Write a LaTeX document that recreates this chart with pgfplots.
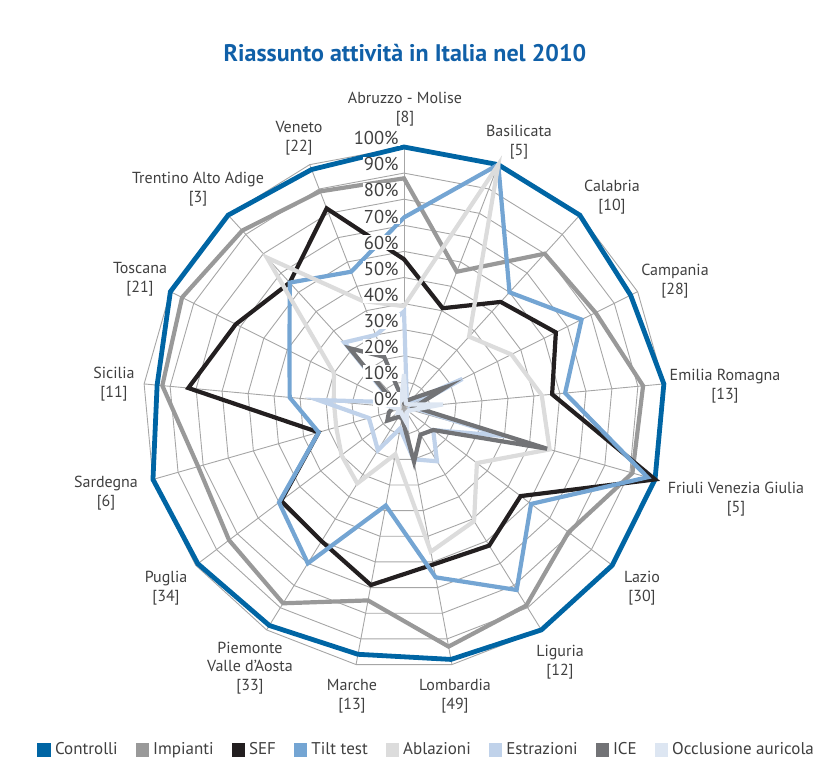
\documentclass[border=0pt]{standalone}
\usepackage{pgfplots}
\pgfplotsset{compat=1.18}
\usepackage{pgfplotstable}
\usepgfplotslibrary{polar}
\usepackage{fontspec}
\setmainfont{PT Sans}
\definecolor{cctrl}{HTML}{0065A4}
\definecolor{cimp}{HTML}{999999}
\definecolor{csef}{HTML}{231F20}
\definecolor{ctilt}{HTML}{74A5D3}
\definecolor{cabl}{HTML}{DCDCDC}
\definecolor{cestr}{HTML}{C0D2EA}
\definecolor{cice}{HTML}{727376}
\definecolor{cocc}{HTML}{DDE6F2}
\definecolor{cgrid}{HTML}{A6A6A6}
\definecolor{ctext}{HTML}{404040}
\definecolor{ctitle}{HTML}{1060A8}
% k: 0 Abruzzo-Molise, 1 Basilicata, 2 Calabria, 3 Campania, 4 Emilia Romagna,
% 5 Friuli VG, 6 Lazio, 7 Liguria, 8 Lombardia, 9 Marche, 10 Piemonte VdA,
% 11 Puglia, 12 Sardegna, 13 Sicilia, 14 Toscana, 15 Trentino AA, 16 Veneto
\pgfplotstableread{
k  ctrl imp sef tilt abl estr ice occl
0  100  88  57  73   39  37   2   13
1  100  56  41  100  100 3    3   2
2  100  80  55  60   37  3    5   2
3  97   82  65  76   46  25   18  3
4  100  92  57  62   53  3    4   15
5  100  91  100 97   58  39   57  3
6  100  79  56  61   35  14   14  2
7  100  89  62  82   51  24   12  2
8  98   93  61  66   56  20   21  6
9  96   75  69  38   18  8    4   3
10 98   88  60  70   34  19   4   2
11 99   84  59  60   30  15   8   3
12 100  82  34  34   27  14   6   2
13 95   93  83  44   27  33   4   5
14 100  95  72  49   30  5    4   2
15 100  92  65  65   78  34   31  3
16 98   89  82  56   44  30   21  3
}\data
\pgfplotstableread{
k  v
0  0
1  0
2  0
3  0
4  0
5  0
6  0
7  0
8  0
9  0
10 0
11 0
12 0
13 0
14 0
15 0
16 0
}\ktab
\pgfplotstableread{
i r
0 0
1 100
}\spk
\begin{document}
\begin{tikzpicture}[x=0.5pt,y=0.5pt]
\path[use as bounding box] (0,0) rectangle (824,778);
\node[font=\fontsize{12}{14}\selectfont\bfseries, text=ctitle] at (405,725) {Riassunto attività in Italia nel 2010};
\begin{polaraxis}[
  at={(202pt,185pt)}, anchor=origin,
  width=261pt, height=261pt, scale only axis,
  hide axis, clip=false,
  xmin=0, xmax=360, ymin=0, ymax=100,
  legend columns=8,
  legend cell align=left,
  legend style={at={(axis description cs:0.545,-0.155)}, anchor=center, draw=none,
    font=\fontsize{8.5}{10}\selectfont, text=ctext,
    /tikz/every even column/.append style={column sep=7pt},
    /tikz/every odd column/.append style={column sep=0pt}},
  legend image code/.code={\fill[#1] (0pt,-2.3pt) rectangle (4.6pt,2.3pt);},
  every axis plot/.append style={line join=miter},
]
\pgfplotsinvokeforeach{10,20,30,40,50,60,70,80,90,100}{
  \addplot[cgrid, line width=0.45pt, forget plot] table[x expr=90-\thisrow{k}*360/17, y expr=#1] {\ktab} -- cycle;
}
\pgfplotsinvokeforeach{0,...,16}{
  \addplot[cgrid, line width=0.45pt, forget plot] table[x expr=90-#1*360/17, y=r] {\spk};
}
\addplot[color=cctrl, line width=2.4pt] table[x expr=90-\thisrow{k}*360/17, y=ctrl] {\data} -- cycle;
\addlegendentry{Controlli}
\addplot[color=cimp, line width=2.1pt] table[x expr=90-\thisrow{k}*360/17, y=imp] {\data} -- cycle;
\addlegendentry{Impianti}
\addplot[color=csef, line width=2.1pt] table[x expr=90-\thisrow{k}*360/17, y=sef] {\data} -- cycle;
\addlegendentry{SEF}
\addplot[color=ctilt, line width=2.1pt] table[x expr=90-\thisrow{k}*360/17, y=tilt] {\data} -- cycle;
\addlegendentry{Tilt test}
\addplot[color=cabl, line width=2.1pt] table[x expr=90-\thisrow{k}*360/17, y=abl] {\data} -- cycle;
\addlegendentry{Ablazioni}
\addplot[color=cestr, line width=2.1pt] table[x expr=90-\thisrow{k}*360/17, y=estr] {\data} -- cycle;
\addlegendentry{Estrazioni}
\addplot[color=cice, line width=2.1pt] table[x expr=90-\thisrow{k}*360/17, y=ice] {\data} -- cycle;
\addlegendentry{ICE}
\addplot[color=cocc, line width=2.1pt] table[x expr=90-\thisrow{k}*360/17, y=occl] {\data} -- cycle;
\addlegendentry{Occlusione auricola}
\pgfplotsinvokeforeach{0,10,20,30,40,50,60,70,80,90,100}{
  \node[anchor=south east, fill=white, inner sep=0.5pt, xshift=-2pt, yshift=0.3pt,
    font=\fontsize{9.3}{10}\selectfont, text=ctext] at (axis cs:90,#1) {#1\%};
}
\end{polaraxis}
\begin{scope}[every node/.style={align=center, text=ctext, font=\fontsize{8}{9.3}\selectfont}]
\node at (405,669) {Abruzzo - Molise\\{}[8]};
\node at (519,636) {Basilicata\\{}[5]};
\node at (612,581) {Calabria\\{}[10]};
\node at (675,497) {Campania\\{}[28]};
\node at (725,392) {Emilia Romagna\\{}[13]};
\node at (736,279) {Friuli Venezia Giulia\\{}[5]};
\node at (642,190) {Lazio\\{}[30]};
\node at (560,116) {Liguria\\{}[12]};
\node at (455,82) {Lombardia\\{}[49]};
\node at (352,82) {Marche\\{}[13]};
\node at (250,110) {Piemonte\\Valle d’Aosta\\{}[33]};
\node at (166,190) {Puglia\\{}[34]};
\node at (106,285) {Sardegna\\{}[6]};
\node at (114,394) {Sicilia\\{}[11]};
\node at (140,499) {Toscana\\{}[21]};
\node at (198,589) {Trentino Alto Adige\\{}[3]};
\node at (299,640) {Veneto\\{}[22]};
\end{scope}
\end{tikzpicture}
\end{document}
